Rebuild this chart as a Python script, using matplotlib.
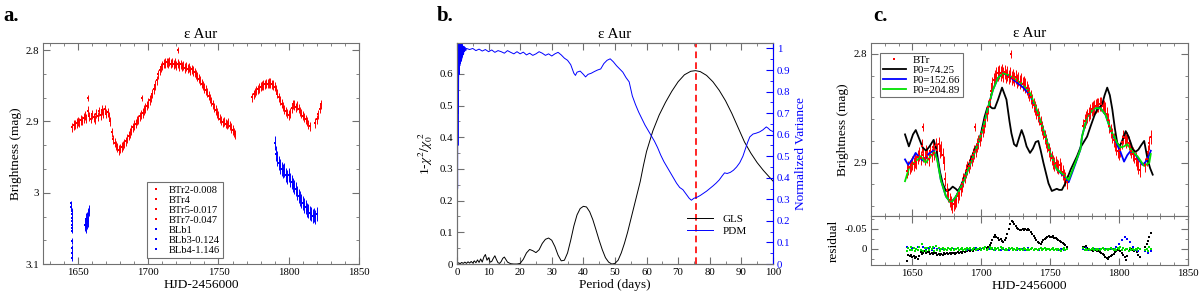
import matplotlib
matplotlib.use("Agg")
import matplotlib.pyplot as plt
import numpy as np
from matplotlib.ticker import MultipleLocator
from matplotlib.lines import Line2D

plt.rcParams["font.family"] = ["Liberation Serif", "DejaVu Serif"]
plt.rcParams["mathtext.fontset"] = "stix"

# ---------------- photometry (HJD-2456000, mag) ----------------
btr_day_1 = np.arange(1646, 1763)
btr_mag_1 = [2.908, 2.905, 2.904, 2.902, 2.900, 2.901, 2.898, 2.899, 2.895, 2.892,
             2.896, 2.885, 2.893, 2.896, 2.890, 2.894, 2.897, 2.889, 2.893, 2.886,
             2.891, 2.884, 2.888, 2.883, 2.889, 2.887, 2.893, 2.900,
             2.915, 2.925, 2.930, 2.934, 2.937, 2.940, 2.938, 2.936, 2.934, 2.931,
             2.928, 2.924, 2.920, 2.916, 2.912, 2.908, 2.905, 2.903, 2.899, 2.897,
             2.893, 2.890, 2.888, 2.884, 2.881, 2.878, 2.874, 2.870, 2.866, 2.861,
             2.855, 2.849, 2.842, 2.834, 2.828, 2.824, 2.821, 2.819, 2.818, 2.817,
             2.818, 2.816, 2.819, 2.817, 2.820, 2.818, 2.821, 2.819, 2.822, 2.820,
             2.823, 2.821, 2.825, 2.823, 2.826, 2.824, 2.828, 2.827, 2.829, 2.831,
             2.834, 2.837, 2.840, 2.843, 2.847, 2.850, 2.853, 2.856, 2.859, 2.864,
             2.868, 2.872, 2.876, 2.880, 2.884, 2.888, 2.892, 2.896, 2.899, 2.901,
             2.900, 2.903, 2.904, 2.902, 2.906, 2.909, 2.912, 2.915, 2.918]
btr_day_2 = np.arange(1774, 1816)
btr_mag_2 = [2.866, 2.862, 2.859, 2.857, 2.855, 2.853, 2.851, 2.850, 2.849, 2.848,
             2.847, 2.847, 2.846, 2.846, 2.848, 2.849, 2.851, 2.855, 2.861, 2.866,
             2.871, 2.875, 2.879, 2.883, 2.886, 2.889, 2.891, 2.888, 2.881, 2.876,
             2.877, 2.880, 2.878, 2.882, 2.886, 2.889, 2.892, 2.894, 2.897, 2.900,
             2.904, 2.907]
btr_day_3 = np.arange(1819, 1824)
btr_mag_3 = [2.902, 2.897, 2.890, 2.882, 2.876]
btr_out_day = [1657.4, 1695.7, 1721.3]
btr_out_mag = [2.867, 2.867, 2.800]
btr_err = 0.0065

blb1_day = [1645.2, 1645.3, 1645.4, 1645.5, 1645.6, 1645.7, 1645.8, 1645.9, 1646.0, 1645.4, 1645.6, 1645.5, 1645.7]
blb1_mag = [3.015, 3.020, 3.025, 3.030, 3.035, 3.040, 3.045, 3.050, 3.053, 3.068, 3.078, 3.085, 3.092]
blb3_day = [1655.0, 1655.3, 1655.6, 1656.0, 1656.3, 1656.6, 1657.0, 1657.3, 1657.6]
blb3_mag = [3.045, 3.040, 3.048, 3.037, 3.043, 3.035, 3.040, 3.030, 3.025]
blb4_day = np.arange(1790, 1821)
blb4_mag = [2.930, 2.945, 2.952, 2.958, 2.963, 2.967, 2.970, 2.968, 2.975, 2.978,
            2.975, 2.982, 2.985, 2.989, 2.992, 2.995, 3.000, 3.005, 3.008, 3.012,
            3.014, 3.018, 3.020, 3.024, 3.026, 3.028, 3.030, 3.033, 3.031, 3.034,
            3.030]
blb_err = 0.010

# ---------------- periodograms ----------------
gls_period = [0, 0.5, 1, 1.5, 2, 2.5, 3, 3.5, 4, 4.5, 5, 5.5, 6, 6.5, 7, 7.5, 8, 8.5, 9, 9.5,
              10, 10.5, 11, 11.5, 12, 12.5, 13, 13.5, 14, 14.5, 15, 15.5, 16, 17, 18, 19,
              20, 21, 22, 23, 24, 25, 26, 27, 28, 29, 30, 31, 32, 33, 34, 35, 36, 37, 38, 39,
              40, 41, 42, 43, 44, 45, 46, 47, 48, 49, 50, 51, 52, 53, 54, 55, 56, 57, 58, 59,
              60, 62, 64, 66, 68, 70, 72, 74, 75.5, 77, 79, 81, 83, 85, 87, 89, 91, 93, 95, 97, 100]
gls_power = [0.0, 0.004, 0.001, 0.005, 0.002, 0.006, 0.002, 0.007, 0.003, 0.008, 0.003, 0.010,
             0.004, 0.013, 0.005, 0.016, 0.006, 0.022, 0.030, 0.012,
             0.020, 0.006, 0.008, 0.018, 0.026, 0.014, 0.004, 0.002, 0.008, 0.018, 0.022, 0.014,
             0.006, 0.001, 0.0, 0.0,
             0.002, 0.015, 0.035, 0.046, 0.042, 0.036, 0.045, 0.065, 0.078, 0.082, 0.075, 0.055,
             0.028, 0.010, 0.012, 0.035, 0.075, 0.120, 0.155, 0.175,
             0.182, 0.180, 0.165, 0.140, 0.108, 0.075, 0.045, 0.020, 0.006, 0.0, 0.002, 0.012,
             0.035, 0.065, 0.100, 0.140, 0.180, 0.220, 0.260, 0.310,
             0.355, 0.420, 0.470, 0.510, 0.545, 0.575, 0.597, 0.608, 0.610, 0.607, 0.595, 0.575,
             0.548, 0.515, 0.475, 0.430, 0.385, 0.350, 0.320, 0.295, 0.262]
pdm_period = [0.0, 0.05, 0.1, 0.15, 0.2, 0.25, 0.3, 0.35, 0.4, 0.45,
              0.5, 0.6, 0.7, 0.8, 0.9, 1.0, 1.1, 1.2, 1.3, 1.4,
              1.5, 1.6, 1.7, 1.8, 1.9, 2.0, 2.1, 2.2, 2.4, 2.6, 2.8,
              3, 4, 5, 6, 7, 8, 9, 10, 11, 12,
              13, 14, 15, 16, 17, 18, 19, 20, 21, 22,
              23, 24, 25, 26, 27, 28, 29, 30, 31, 32,
              33, 34, 35, 36, 37, 37.5, 38, 39, 40, 40.7,
              41.5, 42.5, 43.5, 44.5, 45.5, 46.5, 47.5, 48.5, 49.5, 50.5,
              51.5, 52.5, 53.5, 54.5, 55.5, 56.5, 57.5, 58.5, 59.5, 60.5,
              61.5, 62.5, 63.5, 64.5, 65.5, 66.5, 67.5, 68.5, 69.5, 70.5,
              71.5, 72.5, 73.5, 74.2, 75, 76, 77, 78, 79, 80,
              81, 82, 83, 84, 84.7, 85.5, 86.5, 87.5, 88.5, 89.5,
              90.5, 91.2, 92, 92.7, 93.7, 94.7, 95.8, 96.8, 97.9, 98.5,
              99.2, 100]
pdm_value = [0.08, 0.30, 0.15, 0.55, 0.35, 0.80, 0.55, 1.0, 0.70, 1.02,
             0.80, 1.02, 0.88, 1.02, 0.92, 1.02, 0.93, 1.02, 0.94, 1.02,
             0.95, 1.02, 0.96, 1.01, 0.97, 1.01, 0.975, 1.01, 0.985, 1.005, 0.99,
             1.0, 0.995, 1.0, 0.99, 0.997, 0.988, 0.995, 0.985, 0.993, 0.982,
             0.99, 0.985, 0.978, 0.99, 0.982, 0.975, 0.985, 0.975, 0.983, 0.97,
             0.978, 0.968, 0.975, 0.985, 0.978, 0.968, 0.975, 0.965, 0.975, 0.982,
             0.97, 0.955, 0.945, 0.925, 0.885, 0.875, 0.89, 0.895, 0.88, 0.868,
             0.88, 0.885, 0.893, 0.9, 0.905, 0.93, 0.945, 0.952, 0.938, 0.92,
             0.905, 0.89, 0.865, 0.845, 0.78, 0.74, 0.705, 0.675, 0.645, 0.62,
             0.595, 0.57, 0.54, 0.505, 0.475, 0.45, 0.425, 0.4, 0.375, 0.355,
             0.345, 0.325, 0.305, 0.296, 0.305, 0.31, 0.318, 0.328, 0.338, 0.35,
             0.362, 0.375, 0.39, 0.41, 0.423, 0.42, 0.425, 0.435, 0.45, 0.47,
             0.5, 0.53, 0.565, 0.59, 0.603, 0.607, 0.613, 0.622, 0.636, 0.63,
             0.62, 0.615]
best_period = 75.5

# ---------------- fits (panel c) ----------------
fit1_day = [1644.7, 1647.5, 1650.5, 1652.5, 1655, 1657.5, 1660, 1662.5, 1665.5, 1667.5,
            1670, 1672, 1674.4, 1677, 1679.3, 1681.5, 1683, 1685, 1686.6, 1689,
            1691.5, 1695.2, 1698.8, 1702.4, 1704.5, 1706.1, 1708, 1709.8, 1712.2, 1715.1,
            1718.3, 1720.5, 1721.9, 1723.8, 1725.6, 1727.5, 1729.3, 1731, 1732.9, 1735.4,
            1737.5, 1739.5, 1741.4, 1743, 1745.1, 1748.8, 1751.2, 1753, 1754.8, 1756.5,
            1758.5, 1761, 1765, 1769.5, 1772, 1776.8, 1779.2, 1782, 1784.1, 1786,
            1787.8, 1789.5, 1791.4, 1793.3, 1795.1, 1797, 1798.7, 1800.5, 1802.5, 1804.8,
            1806.5, 1808.5, 1810, 1812, 1814, 1816, 1818.2, 1820.7, 1822.5, 1824.4]
fit1_mag = [2.874, 2.885, 2.874, 2.870, 2.878, 2.886, 2.889, 2.885, 2.879, 2.888,
            2.908, 2.919, 2.926, 2.925, 2.922, 2.924, 2.926, 2.922, 2.917, 2.909,
            2.900, 2.888, 2.879, 2.858, 2.849, 2.848, 2.850, 2.850, 2.842, 2.831,
            2.842, 2.862, 2.873, 2.883, 2.885, 2.877, 2.870, 2.876, 2.885, 2.891,
            2.887, 2.881, 2.880, 2.888, 2.900, 2.919, 2.926, 2.925, 2.924, 2.925,
            2.925, 2.919, 2.906, 2.894, 2.886, 2.876, 2.867, 2.857, 2.851, 2.849,
            2.846, 2.838, 2.831, 2.838, 2.851, 2.869, 2.882, 2.885, 2.879, 2.871,
            2.875, 2.882, 2.888, 2.890, 2.888, 2.884, 2.880, 2.897, 2.905, 2.911]
fit2_day = [1644.7, 1647, 1650, 1652.4, 1655, 1657.5, 1660, 1662.5, 1665.5, 1668,
            1670.7, 1674.4, 1678, 1681.7, 1686.6, 1691.5, 1696.3, 1701, 1705, 1708.5,
            1712.2, 1715.8, 1719.5, 1725.6, 1730.5, 1735.4, 1740.2, 1745.1, 1748.8, 1750,
            1754.8, 1759.7, 1763.4, 1768.3, 1771.9, 1773.1, 1776.8, 1781.7, 1786.6, 1790.2,
            1793.9, 1798.7, 1801, 1803.6, 1806, 1808.5, 1812, 1816.9, 1819.5, 1821.9,
            1823]
fit2_mag = [2.897, 2.902, 2.897, 2.891, 2.895, 2.898, 2.895, 2.891, 2.889, 2.896,
            2.916, 2.931, 2.937, 2.931, 2.919, 2.903, 2.887, 2.870, 2.849, 2.833,
            2.822, 2.818, 2.820, 2.826, 2.831, 2.838, 2.852, 2.870, 2.885, 2.891,
            2.906, 2.912, 2.918, 2.901, 2.888, 2.876, 2.858, 2.850, 2.850, 2.856,
            2.870, 2.884, 2.890, 2.899, 2.893, 2.889, 2.893, 2.902, 2.899, 2.893,
            2.889]
fit3_day = [1644.7, 1647.6, 1650, 1652.4, 1656, 1659.7, 1663.4, 1665.9, 1668, 1670.7,
            1674.4, 1678, 1681.7, 1686.6, 1691.5, 1696.3, 1701, 1705, 1708.5, 1712.2,
            1715.8, 1719.5, 1725.6, 1730.5, 1735.4, 1740.2, 1745.1, 1748.8, 1750, 1754.8,
            1759.7, 1763.4, 1768.3, 1771.9, 1773.1, 1776.8, 1781.7, 1786.6, 1790.2, 1793.9,
            1798.7, 1801, 1803.6, 1806, 1809.7, 1813.3, 1818.2, 1821.9, 1823]
fit3_mag = [2.917, 2.905, 2.901, 2.899, 2.894, 2.900, 2.894, 2.890, 2.897, 2.916,
            2.931, 2.937, 2.931, 2.919, 2.903, 2.887, 2.870, 2.849, 2.833, 2.822,
            2.818, 2.819, 2.824, 2.828, 2.836, 2.851, 2.870, 2.885, 2.891, 2.906,
            2.911, 2.916, 2.900, 2.888, 2.876, 2.858, 2.850, 2.850, 2.856, 2.870,
            2.882, 2.886, 2.885, 2.883, 2.890, 2.894, 2.903, 2.900, 2.892]
fit_labels = ["P0=74.25", "P0=152.66", "P0=204.89"]

# ---------------- residuals ----------------
res1 = [0.030, 0.016, 0.018, 0.014, 0.020, 0.017, 0.022, 0.019, 0.024, 0.018,
        0.008, 0.012, 0.009, 0.006, 0.010, 0.007, 0.008, 0.012, 0.009, 0.013,
        0.010, 0.011, 0.014, 0.012, 0.016, 0.013, 0.015, 0.011, 0.012, 0.009,
        0.013, 0.010, 0.012, 0.009, 0.011, 0.013, 0.010, 0.008, 0.011, 0.007,
        0.009, 0.006, 0.008, 0.005, 0.006, 0.003, 0.005, 0.002, 0.004, 0.001,
        0.003, 0.000, 0.002, -0.001, 0.001, -0.002, -0.001, -0.004, -0.003, -0.006,
        -0.010, -0.016, -0.022, -0.030, -0.035, -0.030, -0.026, -0.022, -0.024, -0.020,
        -0.018, -0.021, -0.028, -0.038, -0.050, -0.062, -0.070, -0.067, -0.061, -0.057,
        -0.053, -0.050, -0.048, -0.046, -0.049, -0.047, -0.050, -0.048, -0.049, -0.046,
        -0.042, -0.038, -0.032, -0.026, -0.021, -0.017, -0.014, -0.013, -0.017, -0.022,
        -0.025, -0.028, -0.030, -0.031, -0.030, -0.029, -0.031, -0.028, -0.027, -0.025,
        -0.022, -0.020, -0.018, -0.015, -0.012, -0.009, -0.006,
        -0.006, -0.004, -0.007, -0.003, 0.001, 0.003, 0.002, 0.004, 0.002, 0.003,
        0.005, 0.004, 0.007, 0.010, 0.013, 0.016, 0.020, 0.023, 0.025, 0.021,
        0.017, 0.014, 0.012, 0.008, 0.005, 0.003, 0.002, 0.006, 0.010, 0.014,
        0.020, 0.028, 0.018, 0.004, 0.003, 0.001, 0.002, 0.004, 0.003, 0.008,
        0.014, 0.020,
        -0.005, -0.012, -0.020, -0.030, -0.040]
res3 = [0.004, -0.002, 0.003, -0.004, 0.002, -0.003, 0.005, -0.001, 0.003, -0.005,
        0.002, -0.012, 0.004, -0.003, 0.006, -0.002, 0.003, -0.006, 0.001, -0.004,
        0.005, -0.008, 0.002, -0.003, 0.004, 0.001, -0.002, 0.003, -0.001, 0.002,
        -0.003, 0.001, 0.003, -0.002, 0.002, -0.001, 0.001, -0.003, 0.002, 0.000,
        -0.002, 0.002, -0.001, 0.003, -0.002, 0.001, -0.003, 0.002, 0.000, -0.002,
        0.002, -0.001, 0.001, -0.003, 0.002, -0.002, 0.001, -0.004, 0.002, -0.001,
        -0.004, 0.001, -0.002, 0.003, -0.003, 0.000, -0.002, 0.002, -0.004, 0.001,
        -0.002, 0.002, -0.001, 0.003, -0.003, 0.001, -0.002, 0.002, -0.001, 0.003,
        -0.002, 0.001, 0.003, -0.001, 0.002, -0.002, 0.001, 0.003, -0.001, 0.002,
        0.000, -0.002, 0.002, 0.001, -0.001, 0.003, 0.000, -0.002, 0.002, 0.001,
        -0.002, 0.002, 0.000, -0.001, 0.003, 0.001, -0.002, 0.002, 0.000, 0.003,
        -0.001, 0.002, 0.004, 0.000, -0.002, 0.003, 0.001,
        -0.002, 0.003, 0.000, 0.002, -0.001, 0.003, 0.001, -0.002, 0.002, 0.000,
        0.003, -0.001, 0.002, 0.000, -0.002, 0.001, 0.003, -0.001, 0.002, 0.000,
        -0.002, 0.001, 0.003, -0.001, 0.002, -0.003, 0.001, -0.004, 0.002, -0.002,
        0.003, -0.001, 0.001, 0.004, -0.002, 0.002, 0.000, 0.003, -0.001, 0.002,
        -0.002, 0.001,
        0.003, -0.001, 0.004, -0.004, 0.001]
res2_day = np.concatenate([np.arange(1646, 1763, 2), np.arange(1774, 1815, 2), [1819, 1821, 1823]])
res2 = [-0.004, 0.003, -0.002, 0.004, -0.006, 0.002, -0.004, 0.003, -0.003, 0.002, -0.002, 0.001,
        0.002, -0.001, 0.001, -0.002, 0.002, 0.000, -0.001, 0.002, -0.002, 0.001,
        0.003, -0.001, 0.001, -0.002, 0.002, 0.000, -0.003, 0.002, 0.001, -0.001,
        0.002, -0.002, 0.003, 0.000, -0.001, 0.002, -0.002, 0.001, 0.003, -0.001,
        0.000, 0.002, -0.002, 0.001, 0.002, -0.001, 0.003, 0.000, -0.002, 0.001,
        0.002, -0.001, 0.000, 0.002, -0.001, 0.003, 0.001,
        0.001, -0.002, 0.002, 0.000, -0.001, 0.002, 0.000, -0.002, 0.001, 0.002,
        -0.001, 0.000, -0.006, -0.012, -0.022, -0.030, -0.025, -0.018, -0.006, 0.002, 0.004,
        0.006, 0.010, 0.004]

btr_day = np.concatenate([btr_day_1, btr_day_2, btr_day_3])
btr_mag = btr_mag_1 + btr_mag_2 + btr_mag_3

# ---------------- figure ----------------
fig = plt.figure(figsize=(12, 2.95), dpi=100)
frame = "#707070"
tick_fs = 7.8
lab_fs = 9.6


def style(ax, right=True, top=True):
    for s in ax.spines.values():
        s.set_color(frame)
    ax.tick_params(which="both", direction="in", top=top, right=right, labelsize=tick_fs,
                   color=frame, pad=3)
    ax.tick_params(which="major", length=5)
    ax.tick_params(which="minor", length=2.5)


ekw = dict(fmt="s", ms=2.0, elinewidth=0.7, capsize=0.9, capthick=0.7, mew=0)

# panel a
ax_a = fig.add_axes([0.0358, 0.105, 0.2633, 0.749])
n1 = 55
ax_a.errorbar(btr_day_1[:n1], btr_mag_1[:n1], yerr=btr_err, color="red", **ekw)
ax_a.errorbar(btr_day_1[n1:], btr_mag_1[n1:], yerr=btr_err, color="red", **ekw)
ax_a.errorbar(btr_day_2, btr_mag_2, yerr=btr_err, color="red", **ekw)
ax_a.errorbar(btr_day_3, btr_mag_3, yerr=btr_err, color="red", **ekw)
ax_a.errorbar(btr_out_day, btr_out_mag, yerr=btr_err * 0.6, color="red", **ekw)
ax_a.errorbar(blb1_day, blb1_mag, yerr=blb_err * 0.4, color="blue", **ekw)
ax_a.errorbar(blb3_day, blb3_mag, yerr=blb_err * 0.8, color="blue", **ekw)
ax_a.errorbar(blb4_day, blb4_mag, yerr=blb_err, color="blue", **ekw)
ax_a.set_xlim(1625, 1850)
ax_a.set_ylim(3.1, 2.79)
ax_a.xaxis.set_major_locator(MultipleLocator(50))
ax_a.xaxis.set_minor_locator(MultipleLocator(10))
ax_a.yaxis.set_major_locator(MultipleLocator(0.1))
ax_a.yaxis.set_minor_locator(MultipleLocator(0.1 / 3))
ax_a.yaxis.set_major_formatter(plt.FuncFormatter(lambda v, p: f"{v:g}"))
style(ax_a)
ax_a.set_xlabel("HJD-2456000", fontsize=lab_fs, labelpad=1)
ax_a.set_ylabel("Brightness (mag)", fontsize=lab_fs, labelpad=2)
ax_a.set_title("ε Aur", fontsize=11, pad=4)
names_a = ["BTr2-0.008", "BTr4", "BTr5-0.017", "BTr7-0.047", "BLb1", "BLb3-0.124", "BLb4-1.146"]
cols_a = ["red"] * 4 + ["blue"] * 3
handles = [Line2D([], [], ls="", marker="s", ms=1.8, mew=0, color=c) for c in cols_a]
leg = ax_a.legend(handles, names_a, loc="lower left", bbox_to_anchor=(0.329, 0.027),
                  borderaxespad=0, fontsize=7.6, handlelength=1.2, handletextpad=0.6,
                  labelspacing=0.06, borderpad=0.3, fancybox=False, framealpha=1)
leg.get_frame().set_edgecolor(frame)
leg.get_frame().set_linewidth(0.8)

# panel b
ax_b = fig.add_axes([0.3808, 0.105, 0.2633, 0.749])
ax_b2 = ax_b.twinx()
ax_b.plot(gls_period, gls_power, color="black", lw=0.7, label="GLS")
ax_b2.plot(pdm_period, pdm_value, color="blue", lw=0.7, label="PDM")
ax_b.axvline(best_period, color="red", ls=(0, (4, 2.5)), lw=1.2)
ax_b.set_xlim(0, 100)
ax_b.set_ylim(0, 0.697)
ax_b2.set_ylim(0, 1.025)
ax_b.xaxis.set_major_locator(MultipleLocator(10))
ax_b.xaxis.set_minor_locator(MultipleLocator(5))
ax_b.set_yticks([0, 0.1, 0.2, 0.3, 0.4, 0.5, 0.6])
ax_b.set_yticklabels(["0", "0.1", "0.2", "0.3", "0.4", "0.5", "0.6"])
ax_b.yaxis.set_minor_locator(MultipleLocator(0.05))
ax_b2.set_yticks(np.arange(0, 11) / 10)
ax_b2.set_yticklabels(["0", "0.1", "0.2", "0.3", "0.4", "0.5", "0.6", "0.7", "0.8", "0.9", "1"])
ax_b2.yaxis.set_minor_locator(MultipleLocator(0.05))
style(ax_b, right=False)
for s in ax_b2.spines.values():
    s.set_color(frame)
ax_b2.spines["right"].set_color("blue")
ax_b2.tick_params(which="both", direction="in", colors="blue", labelsize=tick_fs, pad=3)
ax_b2.tick_params(which="major", length=5)
ax_b2.tick_params(which="minor", length=2.5)
ax_b.set_xlabel("Period (days)", fontsize=lab_fs, labelpad=1)
ax_b.set_ylabel(r"1-$\chi^2/\chi_0^{\ 2}$", fontsize=lab_fs, labelpad=3)
ax_b2.set_ylabel("Normalized Variance", fontsize=lab_fs, color="blue", labelpad=3)
ax_b.set_title("ε Aur", fontsize=11, pad=4)
hb = [Line2D([], [], color="black", lw=0.7), Line2D([], [], color="blue", lw=0.7)]
ax_b.legend(hb, ["GLS", "PDM"], loc="lower right", bbox_to_anchor=(0.95, 0.08), frameon=False,
            fontsize=8, handlelength=2.3, handletextpad=0.9, labelspacing=0.2)

# panel c
ax_c = fig.add_axes([0.7258, 0.2678, 0.2642, 0.5864])
ax_r = fig.add_axes([0.7258, 0.1017, 0.2642, 0.1661], sharex=ax_c)
ax_c.errorbar(btr_day, btr_mag, yerr=btr_err, color="red", **ekw)
ax_c.errorbar(btr_out_day, btr_out_mag, yerr=btr_err * 0.6, color="red", **ekw)
ax_c.plot(fit1_day, fit1_mag, color="black", lw=1.3)
ax_c.plot(fit2_day, fit2_mag, color="blue", lw=1.3)
ax_c.plot(fit3_day, fit3_mag, color="#00e000", lw=1.3)
ax_c.set_xlim(1620, 1850)
ax_c.set_ylim(2.949, 2.79)
ax_c.yaxis.set_major_locator(MultipleLocator(0.1))
ax_c.yaxis.set_minor_locator(MultipleLocator(0.02))
ax_c.yaxis.set_major_formatter(plt.FuncFormatter(lambda v, p: f"{v:g}"))
ax_c.xaxis.set_major_locator(MultipleLocator(50))
ax_c.xaxis.set_minor_locator(MultipleLocator(10))
style(ax_c)
ax_c.tick_params(labelbottom=False)
ax_c.set_ylabel("Brightness (mag)", fontsize=lab_fs, labelpad=3)
ax_c.set_title("ε Aur", fontsize=11, pad=4)
hc = [Line2D([], [], ls="", marker="s", ms=1.8, mew=0, color="red"),
      Line2D([], [], color="black", lw=1.3), Line2D([], [], color="blue", lw=1.3),
      Line2D([], [], color="#00e000", lw=1.3)]
legc = ax_c.legend(hc, ["BTr"] + fit_labels, loc="upper left", bbox_to_anchor=(0.028, 0.945),
                   borderaxespad=0, fontsize=7.8, handlelength=2.2, handletextpad=0.6,
                   labelspacing=0.03, borderpad=0.25, fancybox=False, framealpha=1)
legc.get_frame().set_edgecolor(frame)
legc.get_frame().set_linewidth(0.8)

rkw = dict(ls="", marker="s", ms=1.8, mew=0)
ax_r.plot(btr_day, res1, color="black", **rkw)
ax_r.plot(res2_day, res2, color="blue", **rkw)
ax_r.plot(btr_day, res3, color="#00e000", **rkw)
ax_r.set_ylim(0.04, -0.082)
ax_r.set_yticks([-0.05, 0])
ax_r.set_yticklabels(["-0.05", "0"])
ax_r.yaxis.set_minor_locator(MultipleLocator(0.025))
style(ax_r)
ax_r.set_xlabel("HJD-2456000", fontsize=lab_fs, labelpad=1)
ax_r.set_ylabel("residual", fontsize=lab_fs, labelpad=3)

fig.text(0.003, 0.945, "a.", fontsize=15, fontweight="bold", va="center")
fig.text(0.364, 0.945, "b.", fontsize=15, fontweight="bold", va="center")
fig.text(0.7275, 0.945, "c.", fontsize=15, fontweight="bold", va="center")

fig.savefig("out.png", dpi=100)
